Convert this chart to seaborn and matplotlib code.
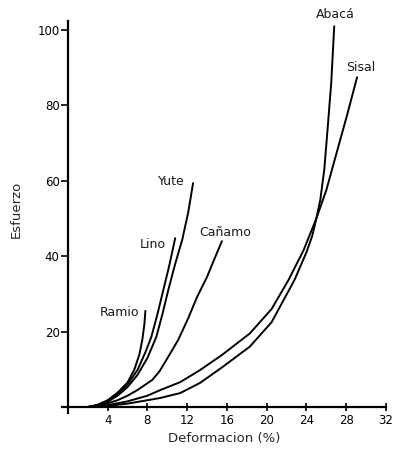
import numpy as np
import pandas as pd
import matplotlib
matplotlib.use('Agg')
import matplotlib.pyplot as plt
import seaborn as sns

sns.set_theme(style='white')
plt.rcParams['font.family'] = ['DejaVu Sans']

# Curvas esfuerzo-deformacion
ramio_x = [2, 3, 4, 5, 6, 6.7, 7.2, 7.5, 7.7, 7.8]
ramio_y = [0, 0.6, 1.8, 3.8, 6.5, 10, 14, 18, 22, 25.5]

lino_x = [2, 3, 4, 5, 6, 7, 7.8, 8.4, 9.0, 9.6, 10.2, 10.8]
lino_y = [0, 0.5, 1.6, 3.4, 6, 9.8, 14.5, 18.6, 24.5, 31, 37.5, 44.8]

yute_x = [2, 3, 4, 5, 6, 7, 8, 8.9, 9.5, 10.1, 10.8, 11.5, 12.1, 12.6]
yute_y = [0, 0.4, 1.4, 3, 5.3, 8.5, 13, 18.6, 24.5, 31, 38, 44.3, 51.5, 59.4]

canamo_x = [2, 3, 4, 5, 6, 7, 8.5, 9.2, 9.8, 11.1, 12.1, 13.0, 14.0, 14.7, 15.5]
canamo_y = [0, 0.3, 1, 1.8, 3, 4.5, 7.2, 9.4, 12, 17.8, 23.5, 29.2, 34.5, 39, 44]

sisal_x = [2, 4, 6, 8, 9.3, 11.3, 13.3, 15.5, 18.3, 20.5, 22.2, 23.7, 25, 26, 27.1, 28.1, 29.1]
sisal_y = [0, 0.5, 1.5, 3, 4.5, 6.6, 9.8, 13.8, 19.5, 26, 33.7, 41.5, 50, 57.5, 68, 77.5, 87.5]

abaca_x = [2, 4, 6, 8, 9.3, 11.3, 13.3, 15.5, 18.3, 20.5, 22.8, 24, 24.6, 25, 25.4, 25.8, 26.1, 26.5, 26.8]
abaca_y = [0, 0.3, 0.9, 1.8, 2.4, 3.7, 6.4, 10.5, 16, 22.5, 33.7, 41, 45.5, 50, 55, 63, 72.7, 86, 101]

# etiquetas de cada fibra
fibras = ['Ramio', 'Lino', 'Yute', 'Cañamo', 'Sisal', 'Abacá']
etiqueta_x = [5.2, 8.5, 10.4, 15.8, 29.5, 26.9]
etiqueta_y = [25.2, 43.0, 59.7, 46.2, 90.2, 104.0]

x_ticks = [4, 8, 12, 16, 20, 24, 28, 32]
y_ticks = [20, 40, 60, 80, 100]

curvas = {
    'Ramio': (ramio_x, ramio_y),
    'Lino': (lino_x, lino_y),
    'Yute': (yute_x, yute_y),
    'Cañamo': (canamo_x, canamo_y),
    'Sisal': (sisal_x, sisal_y),
    'Abacá': (abaca_x, abaca_y),
}

fig = plt.figure(figsize=(3.93, 4.57), dpi=100)
ax = fig.add_axes([0.155, 0.097, 0.832, 0.857])

for nombre, (xs, ys) in curvas.items():
    df = pd.DataFrame({'def': xs, 'esf': ys})
    sns.lineplot(data=df, x='def', y='esf', sort=False, estimator=None,
                 color='black', lw=1.4, ax=ax)

for nombre, tx, ty in zip(fibras, etiqueta_x, etiqueta_y):
    ax.text(tx, ty, nombre, fontsize=9, ha='center', va='center',
            color='#1a1a1a', clip_on=False)

ax.set_xlim(-0.7, 32.2)
ax.set_ylim(-1.5, 102.4)

for s in ['top', 'right']:
    ax.spines[s].set_visible(False)
ax.spines['left'].set_position(('data', 0))
ax.spines['bottom'].set_position(('data', 0))
ax.spines['bottom'].set_bounds(-0.6, 32)
for s in ['left', 'bottom']:
    ax.spines[s].set_color('black')
    ax.spines[s].set_linewidth(1.6)

ax.set_xticks(x_ticks)
ax.set_yticks(y_ticks)
ax.tick_params(axis='x', direction='inout', length=6, width=1.2, colors='black',
               labelsize=8.5, pad=2)
ax.tick_params(axis='y', direction='out', length=5, width=1.2, colors='black',
               labelsize=8.5, pad=1)
ax.tick_params(axis='both', which='both', bottom=True, left=True)

ax.set_xlabel('Deformacion (%)', fontsize=9.5)
ax.set_ylabel('Esfuerzo', fontsize=9.5)
ax.xaxis.set_label_coords(0.5, -0.05)
ax.yaxis.set_label_coords(-0.116, 0.518)

fig.savefig('out.png', dpi=100)
